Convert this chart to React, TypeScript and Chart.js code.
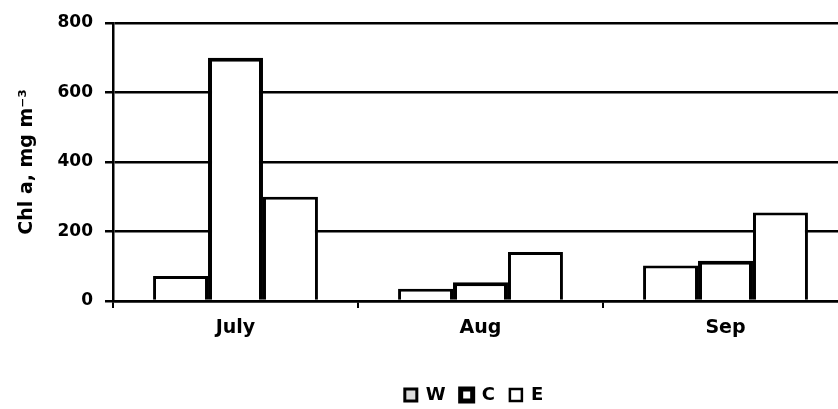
import React, { useEffect, useRef } from 'react';
import { Chart, registerables } from 'chart.js';

Chart.register(...registerables);

const months = ['July', 'Aug', 'Sep'];
const seriesNames = ['W', 'C', 'E'];
const seriesW = [72, 35, 102];
const seriesC = [700, 54, 116];
const seriesE = [300, 141, 255];
const yTicks = [0, 200, 400, 600, 800];
const yTitle = 'Chl a, mg m\u207B\u00B3';

export default function App() {
  const ref = useRef<HTMLCanvasElement>(null);

  useEffect(() => {
    document.body.style.margin = '0';
    const canvas = ref.current;
    if (!canvas) return;
    const family = "'DejaVu Sans', 'Liberation Sans', sans-serif";

    const shiftLegend = {
      id: 'shiftLegend',
      afterLayout(chart: any) {
        const lg = chart.legend;
        if (!lg) return;
        lg.left += 50;
        lg.right += 50;
        lg.top += 5;
        lg.bottom += 5;
      },
    };

    const legendFill = ['#dcdcdc', '#ffffff', '#ffffff'];
    const legendLine = [3, 5, 2.5];

    const chart = new Chart(canvas, {
      type: 'bar',
      data: {
        labels: months,
        datasets: [
          { label: seriesNames[0], data: seriesW, backgroundColor: '#ffffff', borderColor: '#000', borderWidth: 3 },
          { label: seriesNames[1], data: seriesC, backgroundColor: '#ffffff', borderColor: '#000', borderWidth: 4 },
          { label: seriesNames[2], data: seriesE, backgroundColor: '#ffffff', borderColor: '#000', borderWidth: 3 },
        ],
      },
      options: {
        animation: false,
        responsive: false,
        devicePixelRatio: 1,
        layout: { padding: { top: 23, right: 2, bottom: 0, left: 0 } },
        datasets: { bar: { barPercentage: 1, categoryPercentage: 0.673 } } as any,
        scales: {
          x: {
            offset: true,
            grid: { drawOnChartArea: false, drawTicks: true, tickLength: 7, color: '#000', lineWidth: 2, offset: true },
            border: { display: true, color: '#000', width: 2.5 },
            ticks: { color: '#000', font: { family, weight: 'bold', size: 19 }, padding: 9 },
            afterFit: (s: any) => { s.height = 65; },
          },
          y: {
            min: 0,
            max: 800,
            afterBuildTicks: (s: any) => { s.ticks = yTicks.map((v) => ({ value: v })); },
            ticks: { color: '#000', font: { family, weight: 'bold', size: 17 }, padding: 12 },
            grid: { color: '#000', lineWidth: 2.5, tickLength: 8, drawTicks: true },
            border: { display: true, color: '#000', width: 2.5 },
            title: {
              display: true,
              text: yTitle,
              color: '#000',
              font: { family, weight: 'bold', size: 19 },
              padding: { top: 16, bottom: 0 },
            },
            afterFit: (s: any) => { s.width = 113; },
          },
        },
        plugins: {
          legend: {
            position: 'bottom',
            labels: {
              boxWidth: 12,
              boxHeight: 12,
              padding: 15,
              color: '#000',
              font: { family, weight: 'bold', size: 18 },
              generateLabels: (c: any) =>
                c.data.datasets.map((ds: any, i: number) => ({
                  text: ds.label,
                  fillStyle: legendFill[i],
                  strokeStyle: '#000',
                  lineWidth: legendLine[i],
                  fontColor: '#000',
                  hidden: false,
                  datasetIndex: i,
                })),
            },
          },
          tooltip: { enabled: false },
        },
      } as any,
      plugins: [shiftLegend],
    });
    return () => chart.destroy();
  }, []);

  return (
    <div style={{ width: 838, height: 409, overflow: 'hidden', background: '#fff' }}>
      <canvas ref={ref} width={850} height={409} style={{ display: 'block' }} />
    </div>
  );
}
